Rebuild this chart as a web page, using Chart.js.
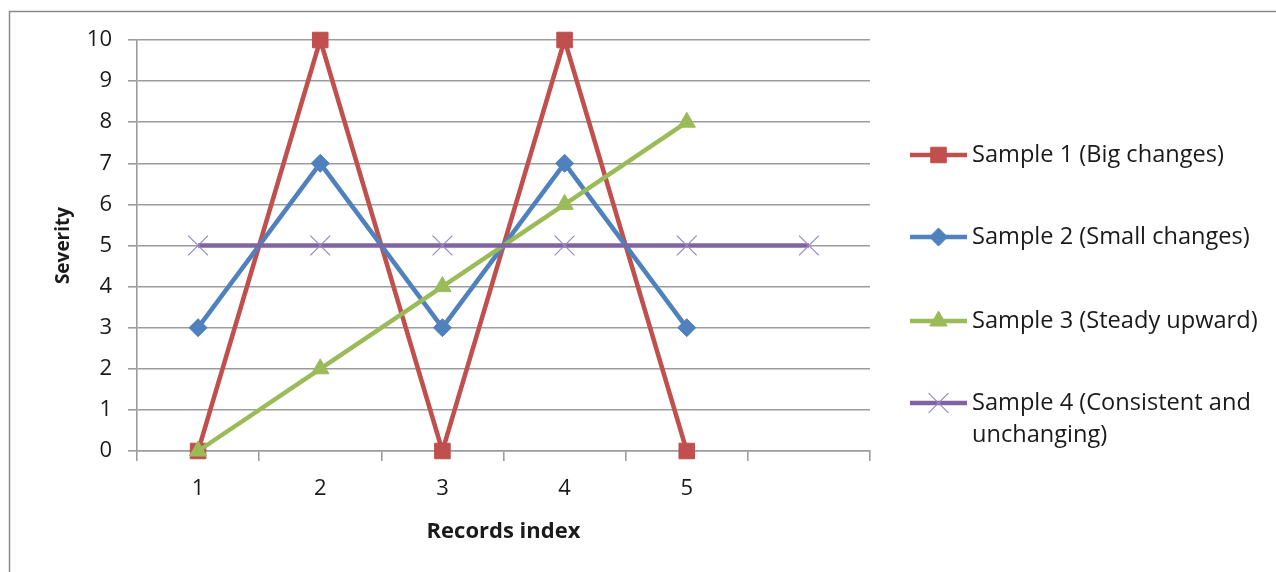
<!DOCTYPE html>
<html>
<head>
<meta charset="utf-8">
<script src="https://cdn.jsdelivr.net/npm/chart.js@4/dist/chart.umd.min.js"></script>
<style>
  html, body { margin: 0; padding: 0; background: #ffffff; }
  #wrap { position: relative; width: 1276px; height: 572px; }
</style>
</head>
<body>
<div id="wrap"><canvas id="c" width="1276" height="572"></canvas></div>
<script>
// ---- data ----
const categories = ['1', '2', '3', '4', '5', ''];
const sample1 = [0, 10, 0, 10, 0];
const sample2 = [3, 7, 3, 7, 3];
const sample3 = [0, 2, 4, 6, 8];
const sample4 = [5, 5, 5, 5, 5, 5];
const seriesNames = [
  ['Sample 1 (Big changes)'],
  ['Sample 2 (Small changes)'],
  ['Sample 3 (Steady upward)'],
  ['Sample 4 (Consistent and', 'unchanging)']
];
const yTicks = [0, 1, 2, 3, 4, 5, 6, 7, 8, 9, 10];
const xTitle = 'Records index';
const yTitle = 'Severity';

// ---- styles ----
const FONT = "'Open Sans', 'DejaVu Sans', sans-serif";
const colors = ['#C0504D', '#4F81BD', '#9BBB59', '#8064A2'];
const markers = [
  { pointStyle: 'rect', radius: 11, borderWidth: 1 },
  { pointStyle: 'rectRot', radius: 9, borderWidth: 1 },
  { pointStyle: 'triangle', radius: 10, borderWidth: 1 },
  { pointStyle: 'crossRot', radius: 14, borderWidth: 1.2 }
];
const markerColors = ['#C0504D', '#4F81BD', '#9BBB59', '#9c86c4'];
const allData = [sample1, sample2, sample3, sample4];

const datasets = allData.map((d, i) => ({
  label: seriesNames[i].join(' '),
  data: d,
  borderColor: colors[i],
  backgroundColor: markerColors[i],
  pointBorderColor: markerColors[i],
  pointBackgroundColor: markerColors[i],
  borderWidth: 4.5,
  pointStyle: markers[i].pointStyle,
  pointRadius: markers[i].radius,
  pointHoverRadius: markers[i].radius,
  pointBorderWidth: markers[i].borderWidth,
  tension: 0,
  fill: false,
  clip: false,
  order: 4 - i
}));

const frameAndLegend = {
  id: 'frameAndLegend',
  beforeDraw(chart) {
    const ctx = chart.ctx;
    ctx.save();
    ctx.fillStyle = '#ffffff';
    ctx.fillRect(0, 0, chart.width, chart.height);
    ctx.strokeStyle = '#8a8a8a';
    ctx.lineWidth = 1.5;
    ctx.beginPath();
    ctx.moveTo(9.5, chart.height);
    ctx.lineTo(9.5, 11.5);
    ctx.lineTo(chart.width, 11.5);
    ctx.stroke();
    ctx.restore();
  },
  afterDraw(chart) {
    const ctx = chart.ctx;
    const ys = [155, 237, 321, 403];
    const x0 = 910, x1 = 967, tx = 972, lh = 32;
    ctx.save();
    for (let i = 0; i < seriesNames.length; i++) {
      const y = ys[i];
      ctx.strokeStyle = colors[i];
      ctx.lineWidth = 4.5;
      ctx.lineCap = 'butt';
      ctx.beginPath();
      ctx.moveTo(x0, y);
      ctx.lineTo(x1, y);
      ctx.stroke();
      ctx.fillStyle = markerColors[i];
      ctx.strokeStyle = markerColors[i];
      ctx.lineWidth = markers[i].borderWidth;
      Chart.helpers.drawPoint(ctx, {
        pointStyle: markers[i].pointStyle,
        radius: markers[i].radius,
        rotation: 0,
        borderWidth: markers[i].borderWidth
      }, (x0 + x1) / 2, y);
      ctx.fillStyle = '#1a1a1a';
      ctx.font = '23.6px ' + FONT;
      ctx.textBaseline = 'middle';
      ctx.textAlign = 'left';
      seriesNames[i].forEach((t, k) => ctx.fillText(t, tx, y + k * lh));
    }
    ctx.restore();
  }
};

new Chart(document.getElementById('c'), {
  type: 'line',
  data: { labels: categories, datasets },
  options: {
    responsive: false,
    animation: false,
    devicePixelRatio: 1,
    layout: { padding: { left: 0, top: 40, right: 406, bottom: 0 } },
    plugins: {
      legend: { display: false },
      tooltip: { enabled: false },
      title: { display: false }
    },
    scales: {
      x: {
        type: 'category',
        offset: true,
        grid: {
          offset: true,
          drawOnChartArea: false,
          drawTicks: true,
          tickLength: 10,
          color: '#9c9c9c',
          lineWidth: 1.6
        },
        border: { display: true, color: '#9c9c9c', width: 1.6 },
        ticks: {
          color: '#1a1a1a',
          font: { family: FONT, size: 22 },
          padding: 15,
          maxRotation: 0,
          autoSkip: false
        },
        title: {
          display: true,
          text: xTitle,
          color: '#1a1a1a',
          font: { family: FONT, size: 22, weight: 'bold' },
          padding: { top: 0, bottom: 27 }
        },
        afterFit(scale) { scale.height = 121; }
      },
      y: {
        min: 0,
        max: 10,
        afterBuildTicks(scale) { scale.ticks = yTicks.map(v => ({ value: v })); },
        grid: {
          color: '#9c9c9c',
          lineWidth: 1.6,
          drawTicks: true,
          tickLength: 9
        },
        border: { display: true, color: '#9c9c9c', width: 1.6 },
        ticks: {
          color: '#1a1a1a',
          font: { family: FONT, size: 22 },
          padding: 16
        },
        title: {
          display: true,
          text: yTitle,
          color: '#1a1a1a',
          font: { family: FONT, size: 19, weight: 'bold' },
          padding: { top: 52, bottom: 0 }
        },
        afterFit(scale) { scale.width = 137; }
      }
    }
  },
  plugins: [frameAndLegend]
});
</script>
</body>
</html>
